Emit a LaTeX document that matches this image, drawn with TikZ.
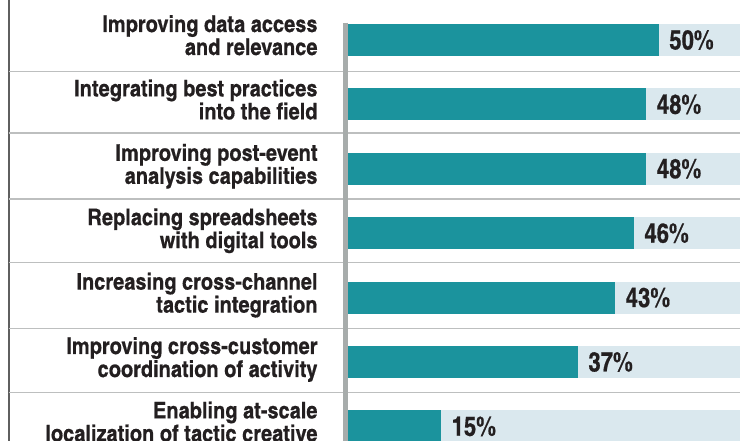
\documentclass[tikz,border=0pt]{standalone}
\usepackage{fontspec}
\setmainfont{texgyreheroscn-regular.otf}[BoldFont=texgyreheroscn-bold.otf]
\newfontfamily\itemfont{texgyreheroscn-bold.otf}[FakeStretch=1.06,FakeBold=0.5]
\newfontfamily\pctfont{texgyreheroscn-bold.otf}[FakeBold=0.6]
\usetikzlibrary{positioning}
\definecolor{barteal}{HTML}{1B939D}
\definecolor{barbg}{HTML}{DAE8EE}
\definecolor{rulegray}{HTML}{BDBFBF}
\definecolor{axisgray}{HTML}{A7ACAB}
\definecolor{framegray}{HTML}{5F5F5F}
\definecolor{inkdark}{HTML}{231F20}

\begin{document}
\begin{tikzpicture}[x=1pt,y=-1pt,
    trackbox/.style={fill=barbg,anchor=west,minimum width=392.3pt,minimum height=32pt,inner sep=0pt},
    valbar/.style={fill=barteal,anchor=west,minimum width=#1*6.22pt,minimum height=32pt,inner sep=0pt},
    pctlabel/.style={text=inkdark,font=\fontsize{27}{30}\selectfont\pctfont,inner sep=0pt},
    itemlabel/.style={text=inkdark,font=\fontsize{23}{23}\selectfont\itemfont,align=right,inner sep=0pt,yshift=1.5pt,execute at end node=\strut},
    gridrule/.style={draw=rulegray,line width=1.3pt},
    axisline/.style={draw=axisgray,line width=5pt},
    frameline/.style={draw=framegray,line width=2pt}]
    \useasboundingbox (0,0) rectangle (740,441);

    %%% LINEAS %%%
    % Marco izquierdo
    \coordinate (ftop) at (8.7,0);
    \coordinate (fbot) at (8.7,441);
    \draw[frameline] (ftop) -- (fbot);

    % Separadores entre filas
    \draw[gridrule] (8.7,71.3) -- (740,71.3)
                    (8.7,133) -- (740,133)
                    (8.7,199) -- (740,199)
                    (8.7,262.5) -- (740,262.5)
                    (8.7,328.5) -- (740,328.5)
                    (8.7,392.5) -- (740,392.5);

    %%% BARRAS %%%
    % Fondos
    \node[trackbox] (t1) at (347.7,40) {};
    \node[trackbox] (t2) [below=32pt of t1] {};
    \node[trackbox] (t3) [below=32pt of t2] {};
    \node[trackbox] (t4) [below=32pt of t3] {};
    \node[trackbox] (t5) [below=32pt of t4] {};
    \node[trackbox] (t6) [below=32pt of t5] {};
    \node[trackbox] (t7) [below=32pt of t6] {};

    % Valores
    \node[valbar=50] (b1) at (t1.west) {};
    \node[valbar=48] (b2) at (t2.west) {};
    \node[valbar=48] (b3) at (t3.west) {};
    \node[valbar=46] (b4) at (t4.west) {};
    \node[valbar=43] (b5) at (t5.west) {};
    \node[valbar=37] (b6) at (t6.west) {};
    \node[valbar=15] (b7) at (t7.west) {};

    % Eje
    \coordinate (atop) at (345.2,22.7);
    \coordinate (abot) at (345.2,441);
    \draw[axisline] (atop) -- (abot);

    %%% ETIQUETAS %%%
    % Porcentajes
    \node[pctlabel] (v1) [right=10pt of b1] {50\%};
    \node[pctlabel] (v2) [right=10pt of b2] {48\%};
    \node[pctlabel] (v3) [right=10pt of b3] {48\%};
    \node[pctlabel] (v4) [right=10pt of b4] {46\%};
    \node[pctlabel] (v5) [right=10pt of b5] {43\%};
    \node[pctlabel] (v6) [right=10pt of b6] {37\%};
    \node[pctlabel] (v7) [right=10pt of b7] {15\%};

    % Categorias
    \node[itemlabel] (l1) [left=30pt of t1] {Improving data access\\and relevance};
    \node[itemlabel] (l2) [left=30pt of t2] {Integrating best practices\\into the field};
    \node[itemlabel] (l3) [left=30pt of t3] {Improving post-event\\analysis capabilities};
    \node[itemlabel] (l4) [left=30pt of t4] {Replacing spreadsheets\\with digital tools};
    \node[itemlabel] (l5) [left=30pt of t5] {Increasing cross-channel\\tactic integration};
    \node[itemlabel] (l6) [left=30pt of t6] {Improving cross-customer\\coordination of activity};
    \node[itemlabel] (l7) [left=30pt of t7] {Enabling at-scale\\localization of tactic creative};
\end{tikzpicture}
\end{document}
